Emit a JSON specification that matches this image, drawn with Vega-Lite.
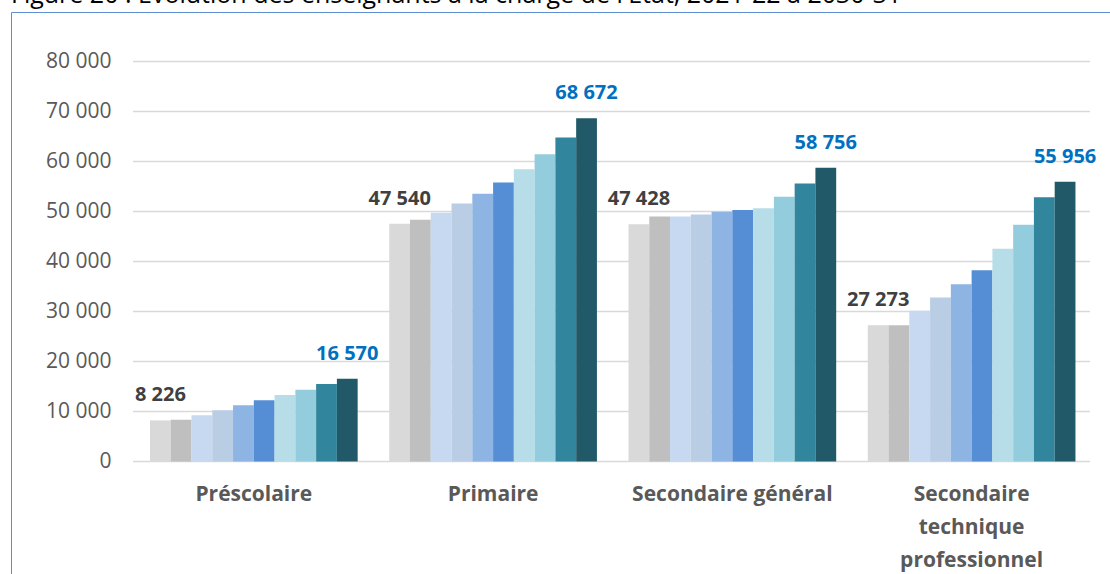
{
  "$schema": "https://vega.github.io/schema/vega-lite/v6.json",
  "width": 1109,
  "height": 572,
  "autosize": {"type": "none"},
  "padding": {"left": 11, "top": 12, "right": -10, "bottom": -10},
  "background": "#ffffff",
  "title": {
    "text": "Figure 20 : Evolution des enseignants à la charge de l'Etat, 2021-22 à 2030-31",
    "anchor": "start",
    "frame": "group",
    "baseline": "alphabetic",
    "offset": 3,
    "dy": 19,
    "font": "Open Sans",
    "fontSize": 25,
    "fontWeight": "normal",
    "color": "#000000"
  },
  "config": {
    "locale": {"number": {"decimal": ",", "thousands": " ", "grouping": [3], "currency": ["", " €"]}},
    "view": {"stroke": "#5F8FD3", "strokeWidth": 1},
    "font": "Open Sans"
  },
  "datasets": {
    "enseignants": [
      {"niveau": "Préscolaire", "annee": "2021-22", "effectif": 8226},
      {"niveau": "Préscolaire", "annee": "2022-23", "effectif": 8330},
      {"niveau": "Préscolaire", "annee": "2023-24", "effectif": 9250},
      {"niveau": "Préscolaire", "annee": "2024-25", "effectif": 10250},
      {"niveau": "Préscolaire", "annee": "2025-26", "effectif": 11250},
      {"niveau": "Préscolaire", "annee": "2026-27", "effectif": 12250},
      {"niveau": "Préscolaire", "annee": "2027-28", "effectif": 13300},
      {"niveau": "Préscolaire", "annee": "2028-29", "effectif": 14350},
      {"niveau": "Préscolaire", "annee": "2029-30", "effectif": 15500},
      {"niveau": "Préscolaire", "annee": "2030-31", "effectif": 16570},
      {"niveau": "Primaire", "annee": "2021-22", "effectif": 47540},
      {"niveau": "Primaire", "annee": "2022-23", "effectif": 48330},
      {"niveau": "Primaire", "annee": "2023-24", "effectif": 49730},
      {"niveau": "Primaire", "annee": "2024-25", "effectif": 51600},
      {"niveau": "Primaire", "annee": "2025-26", "effectif": 53530},
      {"niveau": "Primaire", "annee": "2026-27", "effectif": 55800},
      {"niveau": "Primaire", "annee": "2027-28", "effectif": 58470},
      {"niveau": "Primaire", "annee": "2028-29", "effectif": 61470},
      {"niveau": "Primaire", "annee": "2029-30", "effectif": 64800},
      {"niveau": "Primaire", "annee": "2030-31", "effectif": 68672},
      {"niveau": "Secondaire général", "annee": "2021-22", "effectif": 47428},
      {"niveau": "Secondaire général", "annee": "2022-23", "effectif": 49000},
      {"niveau": "Secondaire général", "annee": "2023-24", "effectif": 49000},
      {"niveau": "Secondaire général", "annee": "2024-25", "effectif": 49400},
      {"niveau": "Secondaire général", "annee": "2025-26", "effectif": 49950},
      {"niveau": "Secondaire général", "annee": "2026-27", "effectif": 50300},
      {"niveau": "Secondaire général", "annee": "2027-28", "effectif": 50650},
      {"niveau": "Secondaire général", "annee": "2028-29", "effectif": 52950},
      {"niveau": "Secondaire général", "annee": "2029-30", "effectif": 55600},
      {"niveau": "Secondaire général", "annee": "2030-31", "effectif": 58756},
      {"niveau": "Secondaire technique professionnel", "annee": "2021-22", "effectif": 27273},
      {"niveau": "Secondaire technique professionnel", "annee": "2022-23", "effectif": 27273},
      {"niveau": "Secondaire technique professionnel", "annee": "2023-24", "effectif": 30130},
      {"niveau": "Secondaire technique professionnel", "annee": "2024-25", "effectif": 32800},
      {"niveau": "Secondaire technique professionnel", "annee": "2025-26", "effectif": 35470},
      {"niveau": "Secondaire technique professionnel", "annee": "2026-27", "effectif": 38270},
      {"niveau": "Secondaire technique professionnel", "annee": "2027-28", "effectif": 42530},
      {"niveau": "Secondaire technique professionnel", "annee": "2028-29", "effectif": 47330},
      {"niveau": "Secondaire technique professionnel", "annee": "2029-30", "effectif": 52870},
      {"niveau": "Secondaire technique professionnel", "annee": "2030-31", "effectif": 55956}
    ],
    "graduations": [
      {"effectif": 0}, {"effectif": 10000}, {"effectif": 20000}, {"effectif": 30000},
      {"effectif": 40000}, {"effectif": 50000}, {"effectif": 60000}, {"effectif": 70000},
      {"effectif": 80000}
    ]
  },
  "layer": [
    {
      "data": {"name": "graduations"},
      "mark": {"type": "rule", "color": "#D9D9D9", "strokeWidth": 1.5},
      "encoding": {
        "y": {
          "field": "effectif",
          "type": "quantitative",
          "scale": {"domain": [-24500, 89900], "nice": false, "zero": false},
          "axis": {
            "orient": "left",
            "offset": -122,
            "values": [0, 10000, 20000, 30000, 40000, 50000, 60000, 70000, 80000],
            "format": ",d",
            "grid": false,
            "domain": false,
            "ticks": false,
            "labelFont": "Open Sans",
            "labelFontSize": 21,
            "labelColor": "#595959",
            "labelPadding": 22,
            "title": null
          }
        },
        "x": {
          "datum": 0,
          "type": "quantitative",
          "scale": {"domain": [-0.12748, 1.03135], "nice": false, "zero": false},
          "axis": null
        },
        "x2": {"datum": 1}
      }
    },
    {
      "data": {"name": "enseignants"},
      "layer": [
        {
          "mark": {"type": "bar"},
          "encoding": {
            "x": {
              "field": "niveau",
              "type": "nominal",
              "sort": ["Préscolaire", "Primaire", "Secondaire général", "Secondaire technique professionnel"],
              "scale": {"paddingInner": 0.132, "paddingOuter": 0.3835, "align": 0.7573},
              "axis": {
                "orient": "bottom",
                "offset": -122.5,
                "labelAngle": 0,
                "domain": false,
                "ticks": false,
                "grid": false,
                "labelFont": "Open Sans",
                "labelFontSize": 21,
                "labelFontWeight": "bold",
                "labelColor": "#595959",
                "labelPadding": 22,
                "labelLineHeight": 33,
                "labelLimit": 400,
                "labelExpr": "datum.label == 'Secondaire technique professionnel' ? ['Secondaire', 'technique', 'professionnel'] : datum.label",
                "title": null
              }
            },
            "xOffset": {"field": "annee", "type": "nominal", "sort": "ascending"},
            "y": {
              "field": "effectif",
              "type": "quantitative",
              "scale": {"domain": [-24500, 89900], "nice": false, "zero": false}
            },
            "y2": {"datum": 0},
            "color": {
              "field": "annee",
              "type": "nominal",
              "sort": "ascending",
              "scale": {
                "range": ["#D9D9D9", "#BFBFBF", "#C6D9F1", "#B9CDE5", "#8EB4E3", "#558ED5", "#B7DEE8", "#93CDDD", "#31859C", "#215968"]
              },
              "legend": null
            }
          }
        },
        {
          "transform": [{"filter": "datum.annee == '2021-22' || datum.annee == '2030-31'"}],
          "mark": {"type": "text", "baseline": "middle", "align": "center", "dy": -25, "font": "Open Sans", "fontSize": 20, "fontWeight": "bold"},
          "encoding": {
            "x": {
              "field": "niveau",
              "type": "nominal",
              "sort": ["Préscolaire", "Primaire", "Secondaire général", "Secondaire technique professionnel"]
            },
            "xOffset": {"field": "annee", "type": "nominal", "sort": "ascending"},
            "y": {"field": "effectif", "type": "quantitative"},
            "text": {"field": "effectif", "type": "quantitative", "format": ",d"},
            "color": {
              "condition": {"test": "datum.annee == '2021-22'", "value": "#404040"},
              "value": "#0070C0"
            }
          }
        }
      ]
    }
  ],
  "resolve": {"scale": {"x": "independent"}}
}
